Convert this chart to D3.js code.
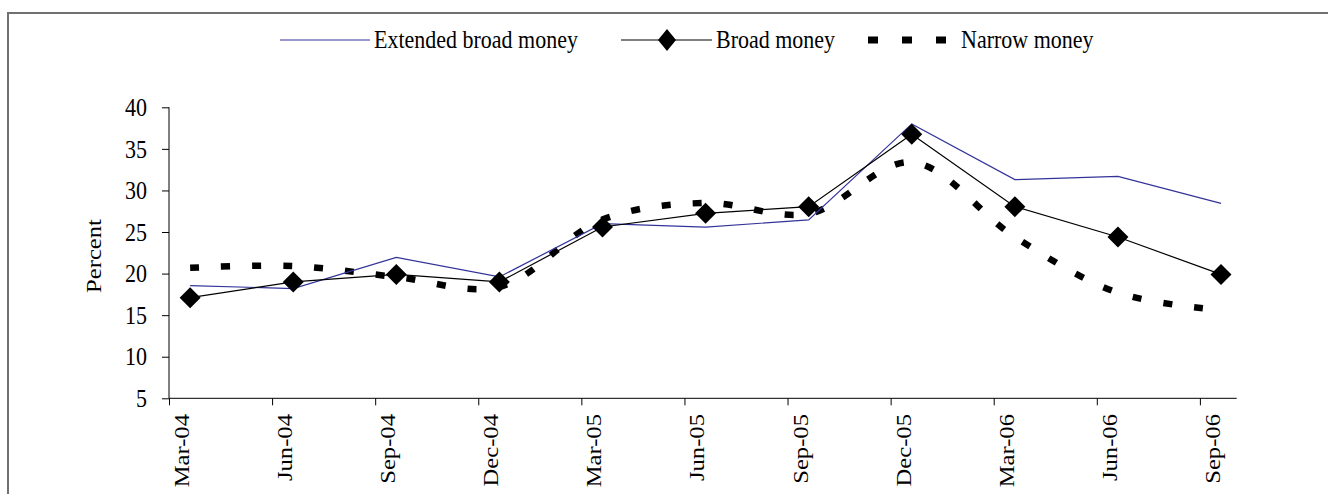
<!DOCTYPE html>
<html>
<head>
<meta charset="utf-8">
<script src="https://cdn.jsdelivr.net/npm/d3@7"></script>
<style>
  html, body { margin: 0; padding: 0; background: #fff; }
  svg text { font-family: "Liberation Serif", "Times New Roman", serif; fill: #000; }
</style>
</head>
<body>
<svg id="chart" width="1328" height="494"></svg>
<script>
const categories = ["Mar-04","Jun-04","Sep-04","Dec-04","Mar-05","Jun-05","Sep-05","Dec-05","Mar-06","Jun-06","Sep-06"];
const extendedBroad = [18.55, 18.2, 21.95, 19.6, 26.0, 25.6, 26.45, 38.0, 31.3, 31.7, 28.45];
const broad = [17.1, 19.0, 19.9, 19.0, 25.6, 27.25, 28.05, 36.75, 28.05, 24.4, 19.9];
const narrow = [20.7, 20.9, 19.6, 18.4, 26.5, 28.5, 27.2, 33.4, 24.4, 17.7, 15.6];
const yTicks = [5, 10, 15, 20, 25, 30, 35, 40];
const seriesNames = ["Extended broad money", "Broad money", "Narrow money"];

const stretch = 1.12;
const svg = d3.select("#chart");

// frame
svg.append("rect")
  .attr("x", 8).attr("y", 13).attr("width", 1340).attr("height", 500)
  .attr("fill", "none").attr("stroke", "#707070").attr("stroke-width", 2);

const plotLeft = 169, plotRight = 1236.7, plotTop = 107.3, plotBottom = 398.3;
const tickOffset = 0.205;

const x = d3.scaleLinear().domain([-tickOffset, 10.152]).range([plotLeft, plotRight]);
const y = d3.scaleLinear().domain([5, 40]).range([plotBottom, plotTop]);

// Y axis
const yAxis = d3.axisLeft(y).tickValues(yTicks).tickSize(7).tickPadding(15);
const gy = svg.append("g").attr("transform", `translate(${plotLeft},0)`).call(yAxis);
gy.select(".domain").attr("d", `M0,${plotTop}V${plotBottom}`).attr("stroke", "#000");
gy.selectAll(".tick line").attr("stroke", "#000");
gy.selectAll(".tick text").attr("font-size", 22).attr("font-family", "Liberation Serif")
  .attr("dy", "0.33em").attr("transform", `scale(1,${stretch})`);

// X axis
const xTickVals = categories.map((c, i) => i - tickOffset);
const xAxis = d3.axisBottom(x).tickValues(xTickVals).tickSize(7).tickFormat("");
const gx = svg.append("g").attr("transform", `translate(0,${plotBottom})`).call(xAxis);
gx.select(".domain").attr("d", `M${plotLeft},0H${plotRight}`).attr("stroke", "#000");
gx.selectAll(".tick line").attr("stroke", "#000");

svg.append("g").selectAll("text").data(categories).join("text")
  .attr("transform", (d, i) => `translate(${x(i - tickOffset) + 20},414) scale(1,${stretch}) rotate(-90)`)
  .attr("text-anchor", "end")
  .attr("font-size", 22)
  .text(d => d);

// Y label
svg.append("text")
  .attr("transform", `translate(101,256) scale(1,${stretch}) rotate(-90)`)
  .attr("text-anchor", "middle")
  .attr("font-size", 22)
  .text("Percent");

// Lines
const straight = d3.line().x((d, i) => x(i)).y(d => y(d));
const smooth = d3.line().x((d, i) => x(i)).y(d => y(d)).curve(d3.curveCatmullRom.alpha(0.5));

svg.append("path").datum(narrow)
  .attr("d", smooth).attr("fill", "none").attr("stroke", "#000")
  .attr("stroke-width", 6.5).attr("stroke-dasharray", "9,22");

svg.append("path").datum(extendedBroad)
  .attr("d", straight).attr("fill", "none").attr("stroke", "#333399").attr("stroke-width", 1.2);

svg.append("path").datum(broad)
  .attr("d", straight).attr("fill", "none").attr("stroke", "#000").attr("stroke-width", 1.2);

const diamond = (cx, cy, rx, ry) => `M${cx},${cy - ry}L${cx + rx},${cy}L${cx},${cy + ry}L${cx - rx},${cy}Z`;
svg.append("g").selectAll("path").data(broad).join("path")
  .attr("d", (d, i) => diamond(x(i), y(d), 10.5, 10.5))
  .attr("fill", "#000");

// Legend
const ly = 40;
const lg = svg.append("g");
lg.append("line").attr("x1", 280).attr("x2", 370).attr("y1", ly).attr("y2", ly)
  .attr("stroke", "#333399").attr("stroke-width", 1.2);
lg.append("text").attr("transform", `translate(374,${ly}) scale(1,${stretch})`)
  .attr("dy", "0.33em").attr("font-size", 22).text(seriesNames[0]);

lg.append("line").attr("x1", 621).attr("x2", 712).attr("y1", ly).attr("y2", ly)
  .attr("stroke", "#000").attr("stroke-width", 1.2);
lg.append("path").attr("d", diamond(667, ly, 9, 11)).attr("fill", "#000");
lg.append("text").attr("transform", `translate(716,${ly}) scale(1,${stretch})`)
  .attr("dy", "0.33em").attr("font-size", 22).text(seriesNames[1]);

lg.append("line").attr("x1", 868).attr("x2", 946).attr("y1", ly).attr("y2", ly)
  .attr("stroke", "#000").attr("stroke-width", 7).attr("stroke-dasharray", "10,24");
lg.append("text").attr("transform", `translate(961,${ly}) scale(1,${stretch})`)
  .attr("dy", "0.33em").attr("font-size", 22).text(seriesNames[2]);
</script>
</body>
</html>
